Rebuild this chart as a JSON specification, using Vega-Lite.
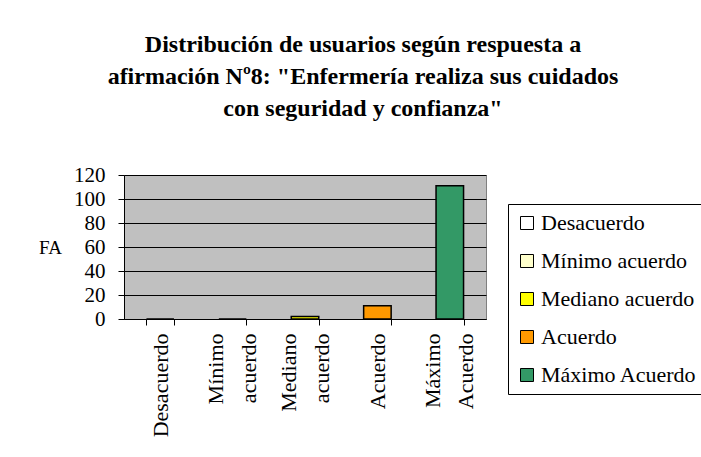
{
  "$schema": "https://vega.github.io/schema/vega-lite/v6.json",
  "autosize": {"type": "none"},
  "padding": {"left": 124, "top": 175, "right": 215, "bottom": 138},
  "width": 362,
  "height": 144,
  "background": "white",
  "title": {
    "text": ["Distribución de usuarios según respuesta a", "afirmación Nº8: \"Enfermería realiza sus cuidados", "con seguridad y confianza\""],
    "font": "Liberation Serif",
    "fontSize": 24,
    "fontWeight": "bold",
    "color": "black",
    "lineHeight": 32,
    "anchor": "middle",
    "dx": 58,
    "offset": 43
  },
  "data": {
    "values": [
      {"categoria": "Desacuerdo", "FA": 0},
      {"categoria": "Mínimo acuerdo", "FA": 0},
      {"categoria": "Mediano acuerdo", "FA": 2},
      {"categoria": "Acuerdo", "FA": 11},
      {"categoria": "Máximo Acuerdo", "FA": 111}
    ]
  },
  "mark": {"type": "bar", "stroke": "black", "strokeWidth": 1.5},
  "encoding": {
    "x": {
      "field": "categoria",
      "type": "nominal",
      "sort": null,
      "scale": {"paddingInner": 0.62, "paddingOuter": 0.31},
      "axis": {
        "title": null,
        "labelAngle": 270,
        "labelAlign": "right",
        "labelBaseline": {"condition": {"test": "datum.value === 'Mínimo acuerdo' || datum.value === 'Mediano acuerdo' || datum.value === 'Máximo Acuerdo'", "value": "line-bottom"}, "value": "middle"},
        "labelExpr": "split(datum.label, ' ')",
        "labelLineHeight": 33,
        "labelFont": "Liberation Serif",
        "labelFontSize": 22,
        "labelColor": "black",
        "labelPadding": 8,
        "tickBand": "extent",
        "tickSize": 6,
        "tickColor": "black",
        "domainColor": "black",
        "grid": false
      }
    },
    "y": {
      "field": "FA",
      "type": "quantitative",
      "scale": {"domain": [0, 120], "nice": false},
      "axis": {
        "title": "FA",
        "titleAngle": 0,
        "titleX": -74,
        "titleY": 72,
        "titleAlign": "center",
        "titleBaseline": "middle",
        "titleFont": "Liberation Serif",
        "titleFontSize": 19,
        "titleFontWeight": "normal",
        "titleColor": "black",
        "values": [0, 20, 40, 60, 80, 100, 120],
        "labelFont": "Liberation Serif",
        "labelFontSize": 21,
        "labelColor": "black",
        "labelPadding": 13,
        "tickSize": 6,
        "tickColor": "black",
        "domainColor": "black",
        "grid": true,
        "gridColor": "black",
        "gridOpacity": 1
      }
    },
    "fill": {
      "field": "categoria",
      "type": "nominal",
      "scale": {
        "domain": ["Desacuerdo", "Mínimo acuerdo", "Mediano acuerdo", "Acuerdo", "Máximo Acuerdo"],
        "range": ["#FFFFFF", "#FFFFCC", "#FFFF00", "#FF9900", "#339966"]
      },
      "legend": {
        "title": null,
        "orient": "none",
        "legendX": 384,
        "legendY": 29,
        "symbolType": "square",
        "symbolSize": 169,
        "symbolStrokeColor": "black",
        "symbolStrokeWidth": 1,
        "symbolOpacity": 1,
        "labelFont": "Liberation Serif",
        "labelFontSize": 22,
        "labelColor": "black",
        "labelOffset": 3,
        "labelLimit": 300,
        "rowPadding": 16,
        "padding": 8,
        "strokeColor": "black",
        "fillColor": "white"
      }
    }
  },
  "config": {
    "view": {"fill": "#C0C0C0", "stroke": "#808080"}
  }
}
